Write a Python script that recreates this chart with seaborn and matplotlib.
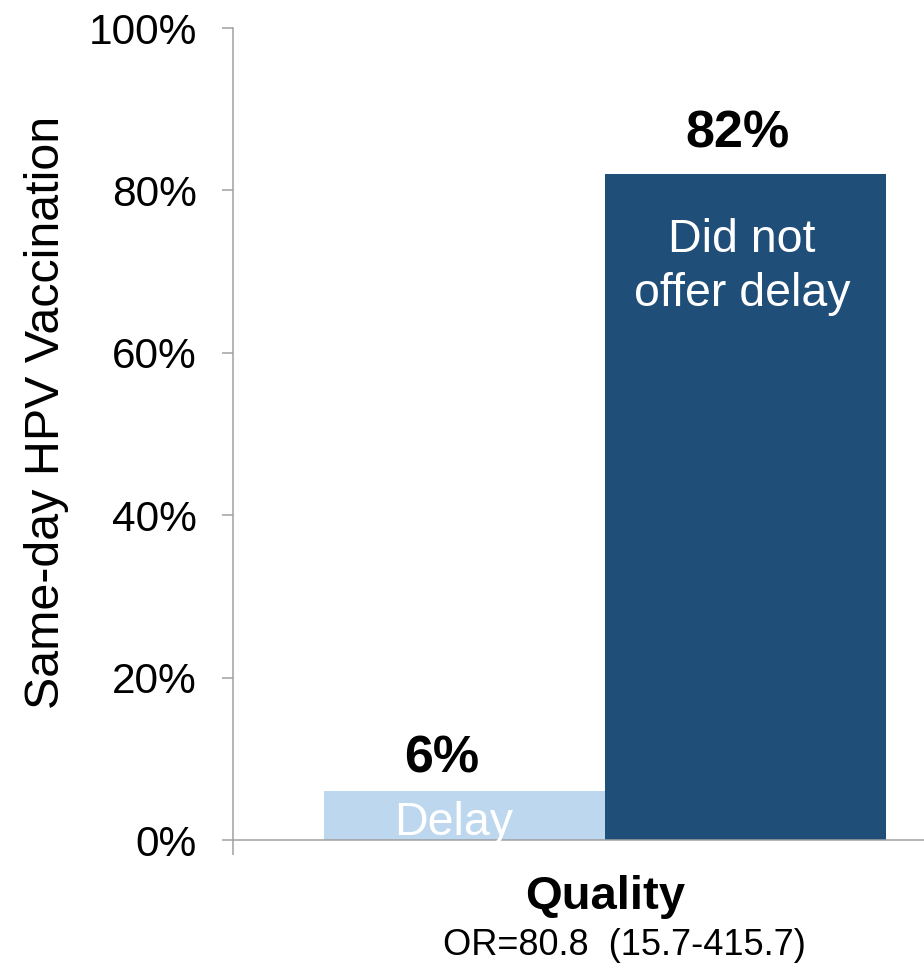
import matplotlib
matplotlib.use("Agg")
import matplotlib.pyplot as plt
import seaborn as sns
import pandas as pd

# ---- data ----
groups = ["Delay", "Did not offer delay"]
values = [6, 82]
bar_texts = ["Delay", "Did not\noffer delay"]
value_labels = ["6%", "82%"]
yticks = [0, 20, 40, 60, 80, 100]
ytick_labels = ["0%", "20%", "40%", "60%", "80%", "100%"]
category = "Quality"
odds_text = "OR=80.8  (15.7-415.7)"
ylabel = "Same-day HPV Vaccination"
colors = ["#BDD7EE", "#1F4E79"]

sns.set_theme(style="white")
plt.rcParams["font.family"] = ["Liberation Sans", "DejaVu Sans"]
plt.rcParams["text.color"] = "black"
plt.rcParams["axes.labelcolor"] = "black"

W, H = 924, 971
fig = plt.figure(figsize=(W / 100, H / 100), dpi=100)
ax = fig.add_axes([233 / W, 1 - 840 / H, (W - 233) / W, (840 - 28) / H])

df = pd.DataFrame({"group": groups, "value": values})
sns.barplot(data=df, x="group", y="value", hue="group", palette=colors,
            width=1.0, legend=False, ax=ax, saturation=1, linewidth=0)

ax.set_xlim(-0.8238, 1.6352)
ax.set_ylim(0, 100)
ax.set_yticks(yticks)
ax.set_yticklabels(ytick_labels, fontsize=30.5, color="black")
ax.set_xticks([-0.8238])
ax.set_xticklabels([""])
ax.set_xlabel("")
ax.set_ylabel(ylabel, fontsize=34.8, labelpad=14, color="black", y=0.527)

for s in ["top", "right"]:
    ax.spines[s].set_visible(False)
for s in ["left", "bottom"]:
    ax.spines[s].set_color("#A0A0A0")
    ax.spines[s].set_linewidth(1.1)
ax.tick_params(axis="y", direction="out", length=8, width=1.1, color="#A0A0A0",
               left=True, pad=18, labelcolor="black")
ax.tick_params(axis="x", direction="out", length=11, width=1.1, color="#A0A0A0",
               bottom=True)

# layout constants for annotations (offsets relative to bars)
label_dx = [-0.08, -0.03]
label_dy = [2.35, 3.3]
inner_pos = [(-0.037, 0.62, "baseline"), (0.988, 70.6, "center")]

for i, (v, lab) in enumerate(zip(values, value_labels)):
    ax.text(i + label_dx[i], v + label_dy[i], lab, ha="center", va="baseline",
            fontsize=37.5, fontweight="bold", color="black")

for (x, y, va), t in zip(inner_pos, bar_texts):
    ax.text(x, y, t, ha="center", va=va, fontsize=33.5, color="white",
            linespacing=1.3, zorder=5)

fig.text(605 / W, 1 - 897 / H, category, ha="center", va="center",
         fontsize=34, fontweight="bold", color="black")
fig.text(624 / W, 1 - 945 / H, odds_text, ha="center", va="center",
         fontsize=26, color="black")

fig.savefig("out.png", dpi=100)
